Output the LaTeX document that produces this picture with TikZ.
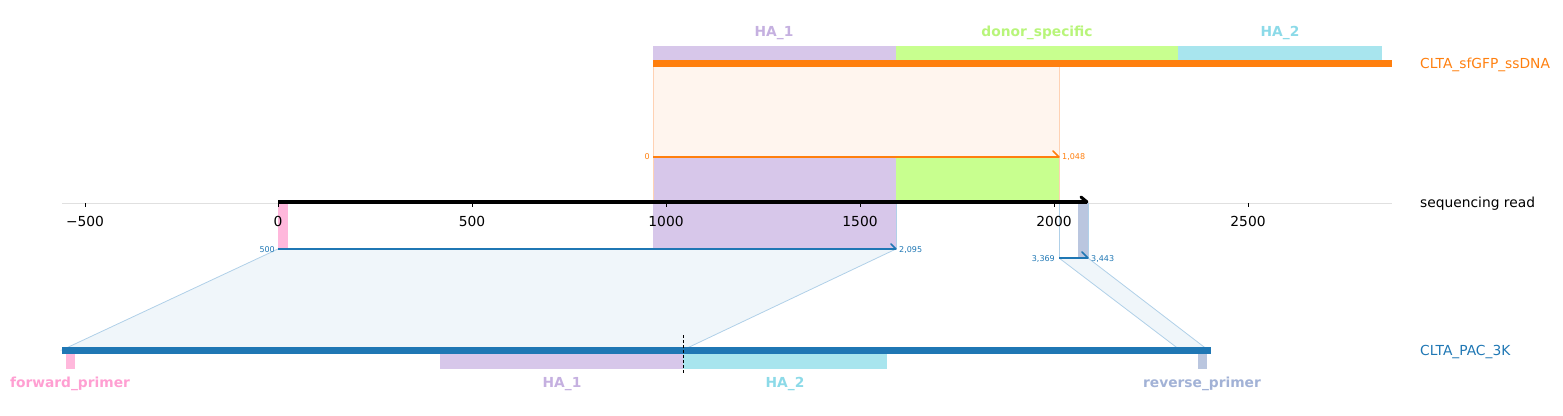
\documentclass[tikz,border=0pt]{standalone}
\usepackage{fontspec}
\setmainfont{DejaVu Sans}
\definecolor{cOrange}{HTML}{FF7F0E}
\definecolor{cBlue}{HTML}{1F77B4}
\definecolor{fPurple}{HTML}{D7C7EA}
\definecolor{lPurple}{HTML}{C5B0E0}
\definecolor{fGreen}{HTML}{C8FF8F}
\definecolor{lGreen}{HTML}{B8F57A}
\definecolor{fCyan}{HTML}{A8E5EE}
\definecolor{lCyan}{HTML}{8CDAE8}
\definecolor{fPink}{HTML}{FFB8DC}
\definecolor{lPink}{HTML}{FF9FD2}
\definecolor{fSlate}{HTML}{BAC6DF}
\definecolor{lSlate}{HTML}{A2B2D6}
\definecolor{oShade}{HTML}{FFF5EE}
\definecolor{oEdge}{HTML}{FFD2B4}
\definecolor{bShade}{HTML}{F0F6FA}
\definecolor{bEdge}{HTML}{B0D0E8}
\definecolor{axisgray}{HTML}{E0E0E0}
\tikzset{
  rowlabel/.style={font=\fontsize{13.8}{15}\selectfont, anchor=west, inner sep=0pt},
  featlabel/.style={font=\bfseries\fontsize{13.8}{15}\selectfont, inner sep=0pt},
  ticklabel/.style={font=\fontsize{13.8}{15}\selectfont, inner sep=0pt},
  poslabel/.style={font=\fontsize{8}{9}\selectfont, inner sep=0pt},
  tickmark/.style={black, line width=0.8pt},
}
\begin{document}
\begin{tikzpicture}[x=1pt,y=-1pt]
\useasboundingbox (0,0) rectangle (1563,415);
% axis
\draw[axisgray, line width=0.8pt] (62,203) -- (1392,203);
% ssDNA alignment shade
\fill[oShade] (653,67) rectangle (1059,157);
\fill[fPurple] (653,157) rectangle (896,249);
\fill[fGreen] (896,157) rectangle (1059,203);
\draw[oEdge, line width=0.8pt] (653,67) -- (653,203);
\draw[oEdge, line width=0.8pt] (1059,67) -- (1059,203);
% PAC alignment shades
\filldraw[fill=bShade, draw=bEdge, line width=0.8pt] (278,249) -- (62,350) -- (683,350) -- (896,249);
\filldraw[fill=bShade, draw=bEdge, line width=0.8pt] (1059,258) -- (1180,350) -- (1208,350) -- (1088,258);
\fill[fPink] (278,203) rectangle (288,249);
\fill[fSlate] (1078,203) rectangle (1088,258);
\draw[bEdge, line width=0.8pt] (896,203) -- (896,249);
\draw[bEdge, line width=0.8pt] (1059,203) -- (1059,258);
\draw[bEdge, line width=0.8pt] (1088,203) -- (1088,258);
% ticks and tick labels
\foreach \px in {85,278,472,666,860,1054,1248}{
  \draw[tickmark] (\px,203) -- (\px,207);
}
\node[ticklabel] (tm500) at (85,221) {−500};
\node[ticklabel] (t0) at (278,221) {0};
\node[ticklabel] (t500) at (472,221) {500};
\node[ticklabel] (t1000) at (666,221) {1000};
\node[ticklabel] (t1500) at (860,221) {1500};
\node[ticklabel] (t2000) at (1054,221) {2000};
\node[ticklabel] (t2500) at (1248,221) {2500};
% mapping lines
\coordinate (oA) at (653,157); \coordinate (oB) at (1059,157);
\draw[cOrange, line width=2pt] (oA) -- (oB);
\draw[cOrange, line width=1.5pt, line cap=round] (1053,151) -- (oB);
\node[poslabel, cOrange, anchor=east] (o0) at (650,157) {0};
\node[poslabel, cOrange, anchor=west] (o1048) at (1062,157) {1,048};
\coordinate (bA) at (278,249); \coordinate (bB) at (896,249);
\draw[cBlue, line width=2pt] (bA) -- (bB);
\draw[cBlue, line width=1.5pt, line cap=round] (891,244) -- (bB);
\node[poslabel, cBlue, anchor=east] (b500) at (275,250) {500};
\node[poslabel, cBlue, anchor=west] (b2095) at (899,250) {2,095};
\coordinate (cA) at (1059,258); \coordinate (cB) at (1088,258);
\draw[cBlue, line width=2pt] (cA) -- (cB);
\draw[cBlue, line width=1.5pt, line cap=round] (1082,252) -- (cB);
\node[poslabel, cBlue, anchor=east] (c3369) at (1055,259) {3,369};
\node[poslabel, cBlue, anchor=west] (c3443) at (1091,259) {3,443};
% sequencing read
\coordinate (rA) at (278,202); \coordinate (rB) at (1087,202);
\draw[black, line width=4pt] (rA) -- (rB);
\draw[black, line width=3pt, line cap=round] (1081,197) -- (rB);
% ssDNA bar and features
\fill[fPurple] (653,46) rectangle (896,60);
\fill[fGreen] (896,46) rectangle (1178,60);
\fill[fCyan] (1178,46) rectangle (1382,60);
\fill[cOrange] (653,60) rectangle (1392,67);
\node[featlabel, lPurple] (sHA1) at (774,33) {HA\_1};
\node[featlabel, lGreen] (sDonor) at (1037,33) {donor\_specific};
\node[featlabel, lCyan] (sHA2) at (1280,33) {HA\_2};
% PAC bar and features
\fill[cBlue] (62,347) rectangle (1211,354);
\fill[fPink] (66,354) rectangle (75,369);
\fill[fPurple] (440,354) rectangle (683,369);
\fill[fCyan] (683,354) rectangle (887,369);
\fill[fSlate] (1198,354) rectangle (1207,369);
\draw[black, line width=0.9pt, dash pattern=on 3pt off 2pt] (683,335) -- (683,374);
\node[featlabel, lPink] (pFwd) at (70,384) {forward\_primer};
\node[featlabel, lPurple] (pHA1) at (562,384) {HA\_1};
\node[featlabel, lCyan] (pHA2) at (785,384) {HA\_2};
\node[featlabel, lSlate] (pRev) at (1202,384) {reverse\_primer};
% row labels
\node[rowlabel, cOrange] (rowS) at (1420,65) {CLTA\_sfGFP\_ssDNA};
\node[rowlabel, black] (rowR) at (1420,204) {sequencing read};
\node[rowlabel, cBlue] (rowP) at (1420,352) {CLTA\_PAC\_3K};
\end{tikzpicture}
\end{document}
